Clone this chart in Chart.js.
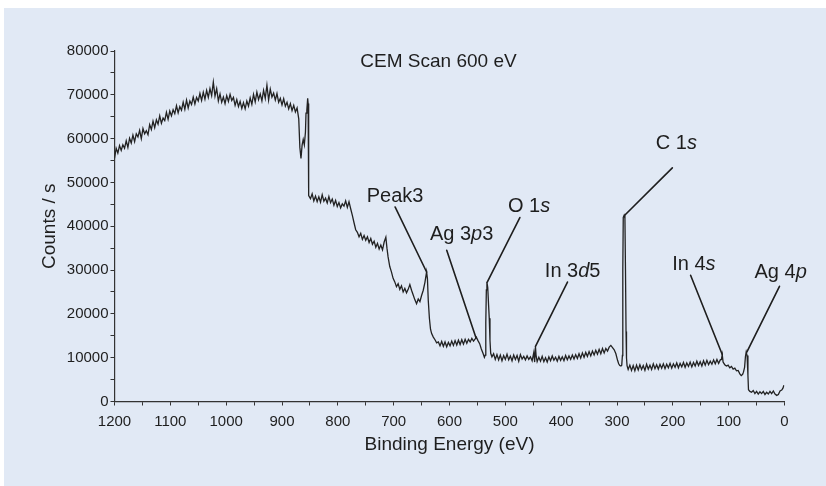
<!DOCTYPE html>
<html><head><meta charset="utf-8">
<script src="https://cdn.jsdelivr.net/npm/chart.js@4"></script>
<style>
html,body{margin:0;padding:0;background:#fff;}
#wrap{position:absolute;left:4px;top:8px;width:822px;height:478px;background:#e1e9f5;}
canvas{display:block;}
</style></head><body>
<div id="wrap"><canvas id="c" width="822" height="478"></canvas></div>
<script>
// Binding energy (eV) and counts/s
const energy = [
1200,1197,1194,1191,1188,1185,1182,1179,1176,1173,
1170,1167,1164,1161,1158,1155,1152,1149,1146,1143,
1140,1137,1134,1131,1128,1125,1122,1119,1116,1113,
1110,1107,1104,1101,1098,1095,1092,1089,1086,1083,
1080,1077,1074,1071,1068,1065,1062,1059,1056,1053,
1050,1047,1044,1041,1038,1035,1032,1029,1026,1023,
1020,1017,1014,1011,1008,1005,1002,999,996,993,
990,987,984,981,978,975,972,969,966,963,
960,957,954,951,948,945,942,939,936,933,
930,927,924,921,918,915,912,909,906,903,
900,897,894,891,888,885,882,879,876,873,
870,868,866,864,862,860,858,857,855.5,854,
853.2,852.5,852,849,846,843,840,837,834,831,
828,825,822,819,816,813,810,807,804,801,
798,795,792,789,786,783,780,777,774,771,
768,765,762,759,756,753,750,747,744,741,
738,735,732,729,726,723,720,717,714,712,
710,707,704,701,698,695,692,689,686,683,
680,677,674,671,668,665,662,659,656,653,
650,647,644,641,639.5,638,636,634,632,629,
626,623,620,617,614,611,608,605,602,599,
596,593,590,587,584,581,578,575,572,569,
566,563,560,557,554,552,549,546,543,540,
537.5,536,535,534,533,531.5,530,528.8,527.5,526.2,
524,521,518,515,512,509,506,503,500,497,
494,491,488,485,482,479,476,473,470,467,
464,461,458,455,452,449,447.5,446,445,443,
440,437,434,431,428,425,422,419,416,413,
410,407,404,401,398,395,392,389,386,383,
380,377,374,371,368,365,362,359,356,353,
350,347,344,341,338,335,332,329,326,323,
320,317,314,311,308,305,302,299,297,295,
293,291.5,290.3,289.6,288.8,287.2,285.8,284.8,283.8,283,
282,280,277,274,271,268,265,262,259,256,
253,250,247,244,241,238,235,232,229,226,
223,220,217,214,211,208,205,202,199,196,
193,190,187,184,181,178,175,172,169,166,
163,160,157,154,151,148,145,142,139,136,
133,130,127,124,121,118,115,113,111.5,110,
107,104,101,98,95,92,89,86,83,80,
77.5,75,73.5,71.5,70,68.6,67,65.5,64.5,62,
59,56,53,50,47,44,41,38,35,32,
29,26,23,20,17,14,11,8,5,3,
1
];
const counts = [
55500,57800,56700,58400,57300,58600,57800,59500,58000,60100,
59000,60800,59300,61100,60400,61900,60000,62300,61100,61800,
60900,63200,62100,64000,62500,64300,63300,65200,63500,64700,
64100,66000,64400,66300,65200,66600,65700,67500,65900,67300,
66500,68300,66700,68800,67000,68600,67800,69500,67900,69400,
68600,70300,68700,70600,69000,71000,69400,71400,69800,72900,
69700,71400,68600,70200,68300,69500,68000,69800,68500,70100,
68700,69400,67600,68900,67300,68500,66900,68200,66800,68600,
67400,69300,67800,70100,68400,70600,68900,70200,68600,71000,
69200,72200,68800,71300,69500,70400,68800,70300,68300,69200,
67700,69100,67400,68300,66800,68000,66400,67600,66100,67000,
64500,58000,55500,58500,59800,58600,61500,65800,66500,69200,
68000,52000,47000,46300,47400,45800,46900,45600,46700,45500,
47200,45700,46400,45300,46800,45400,46200,44800,45900,44500,
45400,44200,45100,44600,45800,44300,45600,44000,42500,40800,
39200,38600,37600,38400,37000,37900,36800,37600,36300,37200,
35900,36600,35200,36100,34800,35700,34600,36400,37500,35000,
33000,30800,29600,28100,27300,26200,26900,25600,26400,25000,
25800,24800,25600,26700,25400,24300,23200,22300,23400,22800,
24200,25400,27200,29600,28000,23000,19000,16500,15500,14700,
14100,13400,13600,12700,13700,12600,13600,12500,13500,12700,
13800,12800,13900,12900,14000,13000,14100,13100,14200,13300,
14200,13600,14400,13800,14300,14700,13900,13200,12000,11000,
10100,10600,18000,25500,27300,26000,22000,19000,14000,11000,
10200,10900,9600,10700,9500,10600,9300,10500,9600,10800,
9500,10400,9300,10600,9600,10500,9200,10700,9700,10300,
9500,10400,9600,10200,9300,11200,9000,12500,10600,9100,
10100,9200,10300,9100,10000,9000,10200,9300,10400,9400,
10100,9200,10300,9400,10200,9300,10500,9500,10400,9600,
10600,9700,10700,9800,10900,9900,11100,10100,11200,10300,
11400,10400,11500,10600,11700,10800,11900,10900,12100,11100,
12100,11500,12400,12800,12300,11800,10900,9400,8600,8200,
8100,8300,10500,30000,42000,42500,41800,30000,16000,10000,
8200,7300,8300,7100,8200,7000,8300,7200,8400,7300,
8200,7100,8500,7400,8300,7300,8600,7500,8400,7400,
8500,7600,8600,7500,8500,7700,8700,7600,8600,7800,
8800,7700,8700,7900,8900,7800,8800,8000,9000,7900,
8900,8100,9200,8200,9100,8100,9300,8300,9400,8400,
9200,8500,9500,8600,9600,8700,9500,9600,10700,9000,
8400,8100,8300,7700,8000,7400,7600,7000,7100,6300,
5900,6200,6700,7800,10200,11300,10500,6000,2700,2300,
2100,2500,1800,2300,1700,2200,1800,2300,1600,2100,
1700,2300,1800,2400,1700,1400,1600,2400,2600,3000,
3700
];

// Axis ticks
const xTickStep = 50, xLabelStep = 100;
const yTickStep = 5000, yLabelStep = 10000;

// Title & annotations (segments: [text, 'n' normal | 'i' italic])
const titleText = 'CEM Scan 600 eV';
const titleE = 619.7, titleC = 76270;
const annTexts = [
  [['Peak3','n']],
  [['Ag 3','n'],['p','i'],['3','n']],
  [['O 1','n'],['s','i']],
  [['In 3','n'],['d','i'],['5','n']],
  [['C 1','n'],['s','i']],
  [['In 4','n'],['s','i']],
  [['Ag 4','n'],['p','i']]
];
const annTextE = [697.5, 578.2, 457.5, 379.4, 193.7, 162.4, 6.9];
const annTextC = [45490, 36800, 43200, 28410, 57530, 29940, 28160];
const annFromE = [697.5, 605, 474, 388.7, 200.9, 168.2, 9.0];
const annFromC = [44400, 34510, 41990, 27270, 53330, 28800, 26290];
const annToE   = [641, 552.6, 532.4, 446, 286.2, 111.5, 67.5];
const annToC   = [29560, 14560, 27270, 12570, 42510, 10740, 11270];

const FAM = '"Liberation Sans", Arial, Helvetica, sans-serif';
const INK = '#1e1e1e';

const overlay = {
  id: 'overlay',
  afterDatasetsDraw(chart) {
    const ctx = chart.ctx, xs = chart.scales.x, ys = chart.scales.y;
    ctx.save();
    ctx.fillStyle = INK;
    ctx.textBaseline = 'alphabetic';
    ctx.font = '19px ' + FAM;
    ctx.textAlign = 'center';
    ctx.fillText(titleText, xs.getPixelForValue(titleE), ys.getPixelForValue(titleC));
    ctx.textAlign = 'left';
    ctx.strokeStyle = INK;
    ctx.lineWidth = 1.6;
    ctx.lineCap = 'round';
    for (let i = 0; i < annTexts.length; i++) {
      ctx.beginPath();
      ctx.moveTo(xs.getPixelForValue(annFromE[i]), ys.getPixelForValue(annFromC[i]));
      ctx.lineTo(xs.getPixelForValue(annToE[i]), ys.getPixelForValue(annToC[i]));
      ctx.stroke();
      const segs = annTexts[i];
      let total = 0;
      const widths = segs.map(s => {
        ctx.font = (s[1] === 'i' ? 'italic ' : '') + '20px ' + FAM;
        const w = ctx.measureText(s[0]).width; total += w; return w;
      });
      let x = xs.getPixelForValue(annTextE[i]) - total / 2;
      const y = ys.getPixelForValue(annTextC[i]);
      segs.forEach((s, k) => {
        ctx.font = (s[1] === 'i' ? 'italic ' : '') + '20px ' + FAM;
        ctx.fillText(s[0], x, y);
        x += widths[k];
      });
    }
    ctx.restore();
  }
};

new Chart(document.getElementById('c'), {
  type: 'line',
  data: {
    datasets: [{
      data: energy.map((e, i) => ({ x: e, y: counts[i] })),
      borderColor: '#222222',
      borderWidth: 1.3,
      pointRadius: 0,
      tension: 0,
      fill: false
    }]
  },
  options: {
    responsive: false,
    animation: false,
    events: [],
    layout: { padding: { left: 0, right: 41.5, top: 43, bottom: 0 } },
    plugins: { legend: { display: false }, tooltip: { enabled: false } },
    scales: {
      x: {
        type: 'linear', reverse: true, min: 0, max: 1200,
        afterFit(s) { s.height = 84.5; },
        border: { color: '#333', width: 1.2 },
        grid: { drawOnChartArea: false, drawTicks: true, tickLength: 4, color: '#333' },
        ticks: {
          stepSize: xTickStep, autoSkip: false, maxRotation: 0, minRotation: 0, padding: 7,
          color: INK, font: { family: FAM, size: 15 },
          callback: v => (v % xLabelStep === 0 ? String(v) : '')
        },
        title: { display: true, text: 'Binding Energy (eV)', color: INK,
                 font: { family: FAM, size: 19 }, padding: { top: 0, bottom: 30 } }
      },
      y: {
        min: 0, max: 80000,
        afterFit(s) { s.width = 110.5; },
        border: { color: '#333', width: 1.2 },
        grid: { drawOnChartArea: false, drawTicks: true, tickLength: 4, color: '#333' },
        ticks: {
          stepSize: yTickStep, autoSkip: false, padding: 2,
          color: INK, font: { family: FAM, size: 15 },
          callback: v => (v % yLabelStep === 0 ? String(v) : '')
        },
        title: { display: true, text: 'Counts / s', color: INK,
                 font: { family: FAM, size: 19 }, padding: { top: 34, bottom: 0 } }
      }
    }
  },
  plugins: [overlay]
});
</script>
</body></html>
